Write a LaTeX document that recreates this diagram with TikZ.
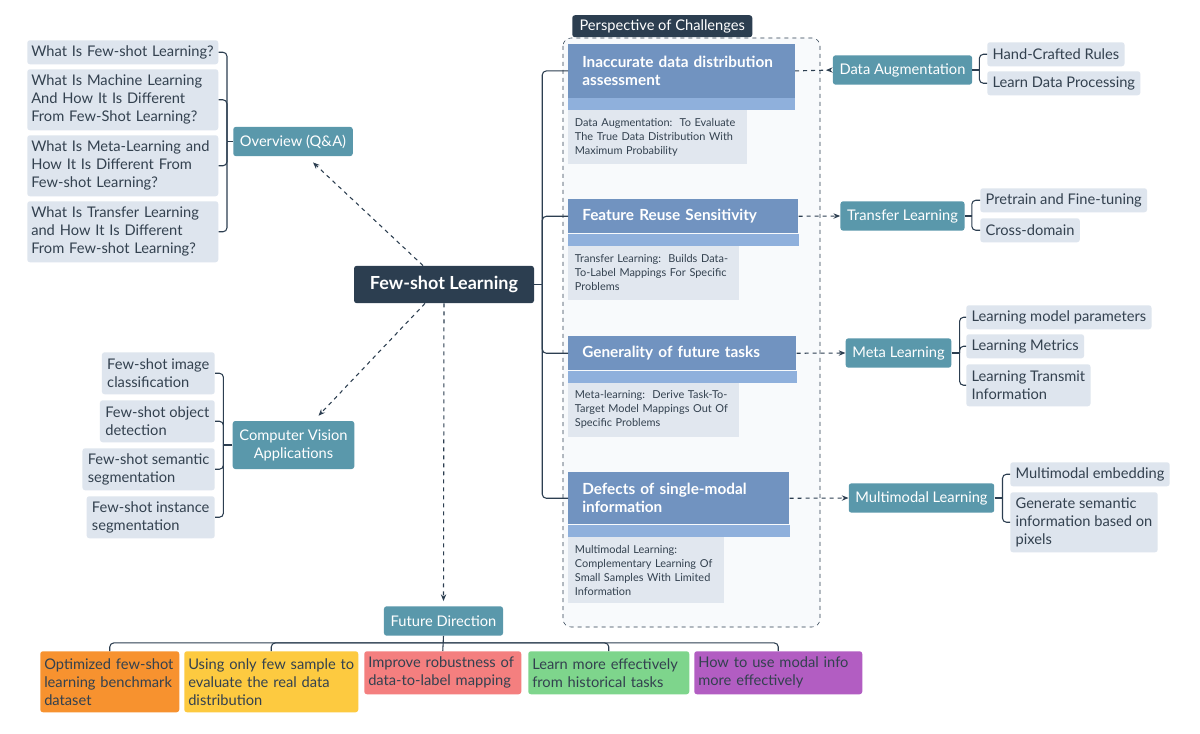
\documentclass[tikz,border=0pt]{standalone}
\usepackage{fontspec}
\setmainfont{Lato}
\usetikzlibrary{arrows.meta,calc}
\definecolor{navy}{HTML}{2C3E50}
\definecolor{topicblue}{HTML}{5A98AB}
\definecolor{leafbox}{HTML}{DEE5EE}
\definecolor{notebox}{HTML}{E1E7EF}
\definecolor{ink}{HTML}{33414F}
\definecolor{chal}{HTML}{7193C0}
\definecolor{chalstrip}{HTML}{8FB0DC}
\definecolor{framebg}{HTML}{F8FAFC}
\definecolor{fdorange}{HTML}{F7922F}
\definecolor{fdyellow}{HTML}{FDCA40}
\definecolor{fdpink}{HTML}{F47F7F}
\definecolor{fdgreen}{HTML}{7ED58C}
\definecolor{fdpurple}{HTML}{B25DC2}
\begin{document}
\begin{tikzpicture}[x=0.75pt,y=-0.75pt,
	every node/.style={font=\fontsize{11}{13.5}\selectfont},
	topic/.style={fill=topicblue, text=white, rounded corners=2pt, inner xsep=5pt, minimum height=22pt, align=center},
	leaf/.style={fill=leafbox, text=ink, rounded corners=2pt, inner xsep=4pt, inner ysep=2pt, align=left},
	challenge/.style={fill=chal, text=white, font=\bfseries\fontsize{11.5}{13.5}\selectfont, inner xsep=10.5pt, align=left, anchor=north west},
	note/.style={fill=notebox, text=ink, font=\fontsize{8.2}{10.5}\selectfont, inner xsep=5pt, align=left, anchor=north west},
	future/.style={text=ink, rounded corners=2pt, inner xsep=3pt, align=left, anchor=north west},
	link/.style={draw=navy, line width=0.8pt, rounded corners=3pt},
	jump/.style={draw=navy, dashed, line width=0.8pt, -{Stealth[length=5pt,width=4pt]}}]
	\useasboundingbox[fill=white] (0,0) rectangle (1200,734);

	% frame of the challenges
	\draw[navy, dashed, fill=framebg, rounded corners=6pt] (563,38) rectangle (820,627);
	\node[fill=navy, text=white, anchor=south west, minimum width=135pt, minimum height=16.5pt, inner ysep=1pt, rounded corners=2pt] (pc) at (572,37.5) {Perspective of Challenges};

	% main topics
	\node[topic, fill=navy, minimum width=135pt, minimum height=28pt, font=\bfseries\fontsize{13.5}{15}\selectfont] (fs) at (444,284.5) {Few-shot Learning};
	\node[topic] (ov) at (293,141.5) {Overview (Q\&A)};
	\node[topic, minimum height=36pt] (cv) at (293.5,445) {Computer Vision\\Applications};
	\node[topic] (fd) at (443.5,621) {Future Direction};
	\node[topic] (da) at (902.5,70) {Data Augmentation};
	\node[topic] (tl) at (902.5,216) {Transfer Learning};
	\node[topic] (ml) at (898.5,353) {Meta Learning};
	\node[topic] (mm) at (921.5,498) {Multimodal Learning};

	% overview questions
	\node[leaf, inner xsep=3pt, text width=137.25pt, anchor=north west, minimum height=18pt] (q1) at (27,40) {What Is Few-shot Learning?};
	\node[leaf, inner xsep=3pt, text width=137.25pt, anchor=north west, minimum height=45.75pt] (q2) at (27,69) {What Is Machine Learning\\And How It Is Different\\From Few-Shot Learning?};
	\node[leaf, inner xsep=3pt, text width=137.25pt, anchor=north west, minimum height=45.75pt] (q3) at (27,135) {What Is Meta-Learning and\\How It Is Different From\\Few-shot Learning?};
	\node[leaf, inner xsep=3pt, text width=137.25pt, anchor=north west, minimum height=45.75pt] (q4) at (27,201) {What Is Transfer Learning\\and How It Is Different\\From Few-shot Learning?};

	% vision applications
	\node[leaf, anchor=north east, minimum height=31.5pt] (k1) at (215,352) {Few-shot image\\classification};
	\node[leaf, anchor=north east, minimum height=31.5pt] (k2) at (215,400) {Few-shot object\\detection};
	\node[leaf, anchor=north east, minimum height=31.5pt] (k3) at (215,448) {Few-shot semantic\\segmentation};
	\node[leaf, anchor=north east, minimum height=31.5pt] (k4) at (215,496) {Few-shot instance\\segmentation};

	% challenges
	\node[challenge, text width=149pt, minimum height=40pt] (c1) at (568,44) {Inaccurate data distribution\\assessment};
	\fill[chalstrip] (c1.south west) rectangle ($(c1.south east)+(0,12)$);
	\node[note, text width=124pt, minimum height=40.5pt] (n1) at ($(c1.south west)+(0,12)$) {Data Augmentation:\ \ To Evaluate\\The True Data Distribution With\\Maximum Probability};

	\node[challenge, text width=151.5pt, minimum height=25.5pt] (c2) at (568,199) {Feature Reuse Sensitivity};
	\fill[chalstrip] (c2.south west) rectangle ($(c2.south east)+(0,12)$);
	\node[note, text width=118pt, minimum height=40.5pt] (n2) at ($(c2.south west)+(0,12)$) {Transfer Learning:\ \ Builds Data-\\To-Label Mappings For Specific\\Problems};

	\node[challenge, text width=150pt, minimum height=25.5pt] (c3) at (568,336) {Generality of future tasks};
	\fill[chalstrip] (c3.south west) rectangle ($(c3.south east)+(0,12)$);
	\node[note, text width=118pt, minimum height=40.5pt] (n3) at ($(c3.south west)+(0,12)$) {Meta-learning:\ \ Derive Task-To-\\Target Model Mappings Out Of\\Specific Problems};

	\node[challenge, text width=144.75pt, minimum height=39pt] (c4) at (568,472) {Defects of single-modal\\information};
	\fill[chalstrip] (c4.south west) rectangle ($(c4.south east)+(0,12)$);
	\node[note, text width=107pt, minimum height=50pt] (n4) at ($(c4.south west)+(0,12)$) {Multimodal Learning:\\Complementary Learning Of\\Small Samples With Limited\\Information};

	% methods
	\node[leaf, anchor=north west, minimum height=18pt] (da1) at (987,42) {Hand-Crafted Rules};
	\node[leaf, anchor=north west, minimum height=18pt] (da2) at (987,71) {Learn Data Processing};
	\node[leaf, anchor=north west, minimum height=18pt] (tl1) at (980,188) {Pretrain and Fine-tuning};
	\node[leaf, anchor=north west, minimum height=18pt] (tl2) at (980,218) {Cross-domain};
	\node[leaf, anchor=north west, minimum height=18pt] (ml1) at (966,305) {Learning model parameters};
	\node[leaf, anchor=north west, minimum height=18pt] (ml2) at (966,334) {Learning Metrics};
	\node[leaf, anchor=north west, minimum height=31.5pt] (ml3) at (966,364) {Learning Transmit\\Information};
	\node[leaf, anchor=north west, minimum height=18pt] (mm1) at (1010,462) {Multimodal embedding};
	\node[leaf, anchor=north west, minimum height=45pt] (mm2) at (1010,492) {Generate semantic\\information based on\\pixels};

	% future directions
	\node[future, fill=fdorange, text width=98.25pt, minimum height=45.75pt] (b1) at (40,651) {Optimized few-shot\\learning benchmark\\dataset};
	\node[future, fill=fdyellow, text width=124.5pt, minimum height=45.75pt] (b2) at (184,651) {Using only few sample to\\evaluate the real data\\distribution};
	\node[future, fill=fdpink, text width=111.75pt, minimum height=32.25pt] (b3) at (364,651) {Improve robustness of\\data-to-label mapping};
	\node[future, fill=fdgreen, text width=114.75pt, minimum height=32.25pt] (b4) at (528,651) {Learn more effectively\\from historical tasks};
	\node[future, fill=fdpurple, text width=120pt, minimum height=32.25pt] (b5) at (694,651) {How to use modal info\\more effectively};

	% connectors
	\draw[link] (ov.west) -- ++(-6,0) coordinate (qs);
	\foreach \q in {q1,q2,q3,q4}
		\draw[link] (qs) |- (\q.east);
	\draw[link] (cv.west) -- ++(-9,0) coordinate (ks);
	\foreach \k in {k1,k2,k3,k4}
		\draw[link] (ks) |- (\k.east);
	\draw[link] (fs.east) -- ++(8,0) coordinate (cs);
	\foreach \c in {c1,c2,c3,c4}
		\draw[link] (cs) |- (\c.west);
	\draw[link] (da.east) -- ++(7,0) coordinate (das);
	\foreach \m in {da1,da2}
		\draw[link] (das) |- (\m.west);
	\draw[link] (tl.east) -- ++(7,0) coordinate (tls);
	\foreach \m in {tl1,tl2}
		\draw[link] (tls) |- (\m.west);
	\draw[link] (ml.east) -- ++(8,0) coordinate (mls);
	\foreach \m in {ml1,ml2,ml3}
		\draw[link] (mls) |- (\m.west);
	\draw[link] (mm.east) -- ++(8,0) coordinate (mms);
	\foreach \m in {mm1,mm2}
		\draw[link] (mms) |- (\m.west);
	\draw[link] (fd.south) -- ++(0,7) coordinate (fb);
	\foreach \b in {b1,b2,b4,b5}
		\draw[link] (fb) -| (\b.north);
	\draw[link] (fd.south) -- (b3.north);

	\draw[jump] ($(fs.north)+(-21,0)$) -- ($(ov.south)+(20,6)$);
	\draw[jump] ($(fs.south)+(-19,0)$) -- ($(cv.north)+(25,-5)$);
	\draw[jump] (fs.south) -- ($(fd.north)+(0,-5)$);
	\draw[jump, -{Stealth[reversed,length=5pt,width=4pt]}] (c1.east) -- (da.west);
	\draw[jump] (c2.east) -- (tl.west);
	\draw[jump] (c3.east) -- (ml.west);
	\draw[jump] (c4.east) -- (mm.west);
\end{tikzpicture}
\end{document}
